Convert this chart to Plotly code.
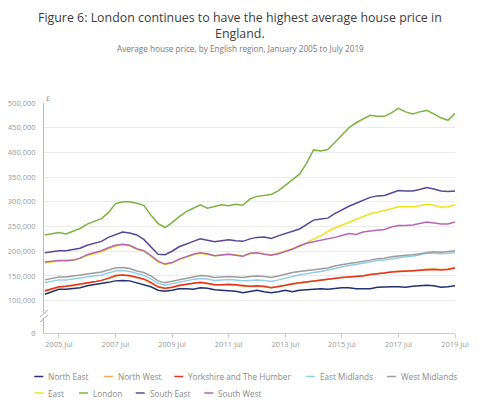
import plotly.graph_objects as go
import pandas as pd

# Quarterly readings (Jan 2005 .. Jul 2019), thousands of pounds
dates = pd.date_range("2005-01-01", periods=59, freq="3MS")

regions = ["North East", "North West", "Yorkshire and The Humber", "East Midlands",
           "West Midlands", "East", "London", "South East", "South West"]

north_east = [113,118,123,123,124,126,130,132,134,137,140,141,140,136,133,128,121,119,121,124,
              124,123,126,125,122,121,120,119,116,118,121,118,116,118,121,118,121,122,123,124,
              123,125,126,126,124,124,124,127,128,128,128,127,129,130,131,130,127,128,130]
north_west = [119,123,127,129,130,133,135,138,141,146,150,152,150,147,143,136,128,124,127,130,
              133,135,136,134,132,132,132,131,129,129,129,128,126,128,130,133,136,138,140,142,
              143,145,147,148,149,151,153,155,156,158,160,160,160,162,164,164,163,164,167]
yorkshire = [120,124,128,129,131,133,136,138,141,145,151,152,151,147,144,137,128,125,127,131,
             133,135,137,135,132,132,133,132,130,129,130,129,126,128,131,134,136,138,140,142,
             143,145,147,148,149,150,153,154,156,158,159,159,160,161,163,163,162,163,166]
east_midlands = [136,139,142,142,144,145,148,150,152,156,160,161,159,155,151,144,135,131,134,138,
                 140,143,145,144,141,142,143,142,140,141,142,141,139,142,146,149,152,155,157,159,
                 162,166,169,171,173,176,179,181,182,185,187,189,190,193,196,196,195,196,197]
west_midlands = [142,145,148,148,150,151,154,156,158,162,166,167,165,160,157,150,140,136,139,143,
                 145,148,151,150,147,148,149,148,147,149,150,149,147,150,154,157,159,161,163,164,
                 166,170,173,175,177,179,182,185,186,189,191,192,193,195,198,199,198,199,201]
east = [176,178,180,180,181,185,191,195,199,205,210,213,211,204,200,190,178,173,176,183,
        188,193,196,194,191,192,194,193,190,195,197,195,193,196,201,205,209,217,225,231,
        240,247,253,258,264,271,276,279,282,286,290,290,290,292,295,293,289,290,294]
london = [233,236,238,235,240,246,255,260,266,278,296,300,300,297,293,273,256,248,258,270,
          280,287,294,287,290,294,292,295,293,306,311,313,315,322,333,344,356,378,405,403,
          406,420,436,450,460,468,475,473,473,480,489,482,478,482,485,478,470,465,479]
south_east = [197,199,201,201,203,206,212,216,220,228,234,239,237,233,224,210,194,193,200,209,
              215,220,225,222,219,221,223,221,220,225,228,229,226,231,236,241,245,254,263,265,
              267,276,284,291,297,303,309,312,313,318,323,322,322,325,329,326,322,321,322]
south_west = [178,180,181,181,182,186,193,197,201,207,212,214,212,205,201,191,180,174,177,184,
              189,194,197,195,191,192,194,192,190,196,197,194,192,195,200,204,211,216,219,222,
              224,228,232,236,234,239,241,243,244,249,252,252,253,256,259,257,255,255,259]

series = [north_east, north_west, yorkshire, east_midlands, west_midlands,
          east, london, south_east, south_west]
colors = ["#22306f", "#f5a55c", "#e4361f", "#93cde4", "#9c9c9c",
          "#efe31c", "#79b43f", "#584796", "#b665b4"]

x_ticks = ["2005-07-01", "2007-07-01", "2009-07-01", "2011-07-01",
           "2013-07-01", "2015-07-01", "2017-07-01", "2019-07-01"]
x_ticktext = ["2005 Jul", "2007 Jul", "2009 Jul", "2011 Jul",
              "2013 Jul", "2015 Jul", "2017 Jul", "2019 Jul"]
y_break = 34500  # where the "0" label sits (axis is broken below 100,000)
y_ticks = [y_break, 100000, 150000, 200000, 250000, 300000, 350000, 400000, 450000, 500000]
y_ticktext = ["0", "100,000", "150,000", "200,000", "250,000", "300,000",
              "350,000", "400,000", "450,000", "500,000"]

FONT = "Open Sans"
# page has an 8px body margin; figure sized to fit inside the window
W, H = 472, 401
L, R, T, B = 36, 25, 95, 76
PLOT_X0, PLOT_Y1 = 8 + L, 8 + H - B   # plot area corners in page pixels
PLOT_W, PLOT_H = W - L - R, H - T - B


def px(xp):
    return (xp - PLOT_X0) / PLOT_W


def py(yp):
    return (PLOT_Y1 - yp) / PLOT_H


fig = go.Figure()
for name, vals, col in zip(regions, series, colors):
    fig.add_trace(go.Scatter(x=dates, y=[v * 1000 for v in vals], mode="lines",
                             name=name, line=dict(color=col, width=1.5), showlegend=False))

annotations = [
    dict(text="Figure 6: London continues to have the highest average house price in<br>England.",
         xref="paper", yref="paper", x=px(240), y=py(8), xanchor="center", yanchor="top",
         showarrow=False, borderpad=0, font=dict(family=FONT, size=12.4, color="#3c3c3c")),
    dict(text="Average house price, by English region, January 2005 to July 2019",
         xref="paper", yref="paper", x=px(240), y=py(48), xanchor="center", yanchor="middle",
         showarrow=False, borderpad=0, font=dict(family=FONT, size=8.2, color="#777777")),
    dict(text="£", xref="paper", yref="paper", x=px(44), y=py(98), xanchor="left", yanchor="middle",
         showarrow=False, font=dict(family=FONT, size=7.5, color="#999999")),
]
shapes = []

legend_pos = [(47.3, 376.5), (117, 376.5), (187.3, 376.5), (318.7, 376.5), (400, 376.5),
              (47.3, 393), (92, 393), (148.7, 393), (217.3, 393)]
for name, col, (tx, ty) in zip(regions, colors, legend_pos):
    shapes.append(dict(type="line", xref="paper", yref="paper",
                       x0=px(tx - 13), x1=px(tx - 4), y0=py(ty), y1=py(ty),
                       line=dict(color=col, width=1.5)))
    annotations.append(dict(text=name, xref="paper", yref="paper", x=px(tx - 1), y=py(ty),
                            xanchor="left", yanchor="middle", showarrow=False,
                            font=dict(family=FONT, size=8.2, color="#8a8a8a")))

# axis break marks
shapes.append(dict(type="rect", xref="paper", yref="paper", x0=px(42), x1=px(46),
                   y0=py(318), y1=py(313), line=dict(width=0), fillcolor="white"))
for off in (0, 5):
    shapes.append(dict(type="line", xref="paper", yref="paper",
                       x0=px(40), x1=px(48), y0=py(317 + off), y1=py(310 + off),
                       line=dict(color="#b0b0b0", width=1)))

fig.update_layout(
    width=W, height=H,
    margin=dict(l=L, r=R, t=T, b=B),
    paper_bgcolor="white", plot_bgcolor="white",
    font=dict(family=FONT, color="#999999"),
    annotations=annotations,
    shapes=shapes,
    showlegend=False,
    xaxis=dict(type="date", range=["2004-12-21", "2019-07-01"],
               tickvals=x_ticks, ticktext=x_ticktext, automargin=False,
               showgrid=False, showline=True, linecolor="#cccccc", linewidth=1,
               ticks="outside", ticklen=4, tickcolor="#cccccc",
               tickfont=dict(family=FONT, size=7.5, color="#999999"), zeroline=False),
    yaxis=dict(range=[y_break, 500000], tickvals=y_ticks, ticktext=y_ticktext, automargin=False,
               showgrid=True, gridcolor="#ebebeb", gridwidth=1,
               showline=True, linecolor="#bbbbbb", linewidth=1,
               ticks="outside", ticklen=6, tickcolor="rgba(0,0,0,0)",
               tickfont=dict(family=FONT, size=7.5, color="#999999"), zeroline=False),
)

fig.write_html("out.html")
